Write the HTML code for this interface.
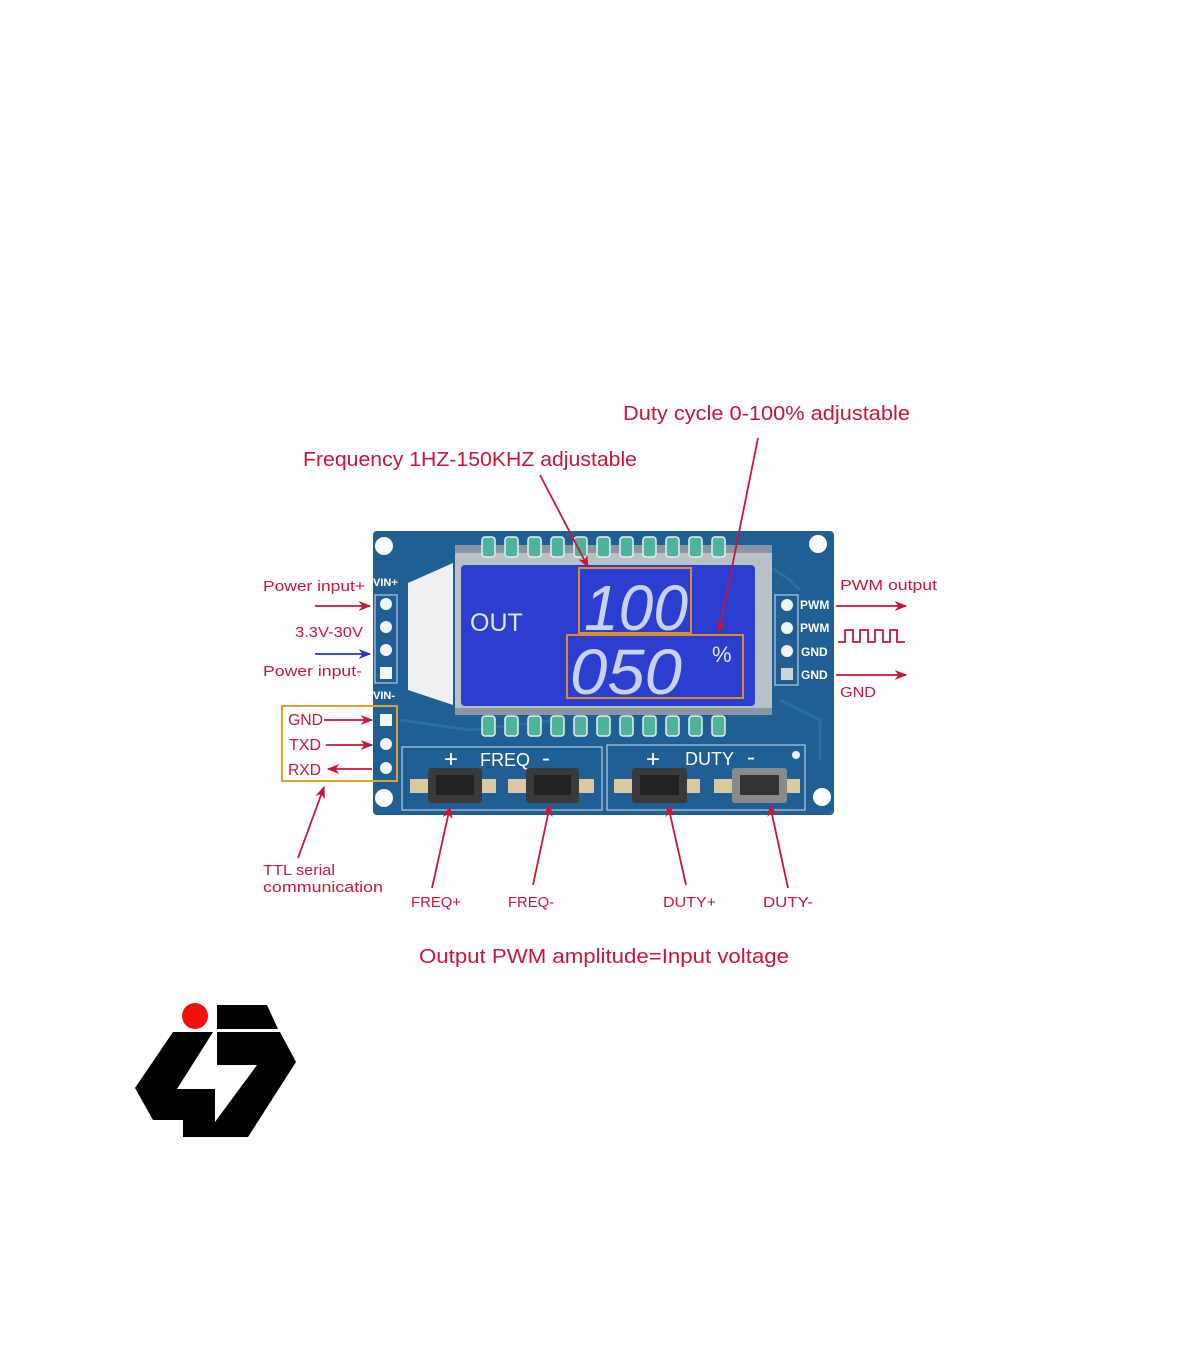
<!DOCTYPE html>
<html><head><meta charset="utf-8"><style>
html,body{margin:0;padding:0;background:#fff;width:1200px;height:1372px;overflow:hidden}
svg{display:block}
text{font-family:"Liberation Sans","DejaVu Sans",sans-serif}
</style></head><body>
<svg width="1200" height="1372" viewBox="0 0 1200 1372" xmlns="http://www.w3.org/2000/svg">
<defs>
<marker id="ar" viewBox="0 0 10 10" refX="9" refY="5" markerWidth="7" markerHeight="7" orient="auto-start-reverse"><path d="M0,1 L10,5 L0,9 L3,5 z" fill="#c8163a"/></marker>
<marker id="ab" viewBox="0 0 10 10" refX="9" refY="5" markerWidth="7" markerHeight="7" orient="auto"><path d="M0,1 L10,5 L0,9 L3,5 z" fill="#2a34c8"/></marker>
</defs>
<rect width="1200" height="1372" fill="#fff"/>

<rect x="373" y="531" width="461" height="284" rx="4" fill="#1f5f93"/>
<path d="M400,720 L470,730 L560,720 M780,700 L820,720 L820,760 M760,560 L790,580 L800,590" stroke="#2b6ea6" stroke-width="3" fill="none"/>
<circle cx="384" cy="546" r="9" fill="#fff"/><circle cx="818" cy="544" r="9" fill="#fff"/>
<circle cx="384" cy="798" r="9" fill="#fff"/><circle cx="822" cy="797" r="9" fill="#fff"/>
<rect x="455" y="545" width="317" height="170" fill="#8a97a0"/>
<rect x="455" y="553" width="317" height="155" fill="#b9c1c6"/>
<g fill="#4fb39a" stroke="#e8f0ee" stroke-width="1.5">
<rect x="482" y="537" width="13" height="20" rx="3"/><rect x="505" y="537" width="13" height="20" rx="3"/><rect x="528" y="537" width="13" height="20" rx="3"/><rect x="551" y="537" width="13" height="20" rx="3"/><rect x="574" y="537" width="13" height="20" rx="3"/><rect x="597" y="537" width="13" height="20" rx="3"/><rect x="620" y="537" width="13" height="20" rx="3"/><rect x="643" y="537" width="13" height="20" rx="3"/><rect x="666" y="537" width="13" height="20" rx="3"/><rect x="689" y="537" width="13" height="20" rx="3"/><rect x="712" y="537" width="13" height="20" rx="3"/>
<rect x="482" y="716" width="13" height="20" rx="3"/><rect x="505" y="716" width="13" height="20" rx="3"/><rect x="528" y="716" width="13" height="20" rx="3"/><rect x="551" y="716" width="13" height="20" rx="3"/><rect x="574" y="716" width="13" height="20" rx="3"/><rect x="597" y="716" width="13" height="20" rx="3"/><rect x="620" y="716" width="13" height="20" rx="3"/><rect x="643" y="716" width="13" height="20" rx="3"/><rect x="666" y="716" width="13" height="20" rx="3"/><rect x="689" y="716" width="13" height="20" rx="3"/><rect x="712" y="716" width="13" height="20" rx="3"/>
</g>
<polygon points="408,583 453,563 453,705 408,690" fill="#eef0f1"/>
<rect x="461" y="565" width="294" height="141" rx="4" fill="#2a3fd0"/>
<text x="470" y="631" font-size="25" fill="#dfe6f5">OUT</text>
<text x="584" y="630" font-size="64" fill="#c7d2ec" font-style="italic" textLength="104" lengthAdjust="spacingAndGlyphs">100</text>
<text x="570" y="694" font-size="64" fill="#c7d2ec" font-style="italic" textLength="112" lengthAdjust="spacingAndGlyphs">050</text>
<text x="712" y="662" font-size="22" fill="#dfe6f5">%</text>
<rect x="579" y="568" width="112" height="65" fill="none" stroke="#e08a2a" stroke-width="2"/>
<rect x="567" y="635" width="176" height="63" fill="none" stroke="#e08a2a" stroke-width="2"/>
<rect x="375" y="595" width="22" height="88" fill="none" stroke="#d6e3ee" stroke-width="1"/>
<g fill="#f2f4f5"><circle cx="386" cy="604" r="6"/><circle cx="386" cy="627" r="6"/><circle cx="386" cy="650" r="6"/><rect x="380" y="667" width="12" height="12"/>
<rect x="380" y="714" width="12" height="12"/><circle cx="386" cy="744" r="6"/><circle cx="386" cy="768" r="6"/></g>
<text x="373" y="586" font-size="11" fill="#fff" font-weight="bold">VIN+</text>
<text x="373" y="699" font-size="11" fill="#fff" font-weight="bold">VIN-</text>
<rect x="775" y="595" width="23" height="90" fill="none" stroke="#d6e3ee" stroke-width="1"/>
<g fill="#f2f4f5"><circle cx="787" cy="605" r="6"/><circle cx="787" cy="628" r="6"/><circle cx="787" cy="651" r="6"/><rect x="781" y="668" width="12" height="12" fill="#cfd6da"/></g>
<g font-size="12" fill="#fff" font-weight="bold"><text x="800" y="609">PWM</text><text x="800" y="632">PWM</text><text x="801" y="656">GND</text><text x="801" y="679">GND</text></g>
<rect x="402" y="747" width="200" height="63" fill="none" stroke="#d6e3ee" stroke-width="1"/>
<rect x="607" y="745" width="198" height="65" fill="none" stroke="#d6e3ee" stroke-width="1"/>
<g font-size="18" fill="#fff"><text x="444" y="767" font-size="24">+</text><text x="480" y="766">FREQ</text><text x="542" y="766" font-size="24">-</text>
<text x="646" y="767" font-size="24">+</text><text x="685" y="765">DUTY</text><text x="747" y="765" font-size="24">-</text></g>
<circle cx="796" cy="755" r="4" fill="#eef"/>
<g>
<rect x="410" y="779" width="86" height="14" fill="#d9c9a0"/><rect x="428" y="768" width="54" height="35" rx="3" fill="#3a3a3a"/><rect x="436" y="775" width="38" height="20" fill="#222"/>
<rect x="508" y="779" width="86" height="14" fill="#d9c9a0"/><rect x="526" y="768" width="53" height="35" rx="3" fill="#3a3a3a"/><rect x="534" y="775" width="37" height="20" fill="#222"/>
<rect x="614" y="779" width="86" height="14" fill="#d9c9a0"/><rect x="632" y="768" width="55" height="35" rx="3" fill="#3a3a3a"/><rect x="640" y="775" width="39" height="20" fill="#222"/>
<rect x="714" y="779" width="86" height="14" fill="#d9c9a0"/><rect x="732" y="768" width="55" height="35" rx="3" fill="#8a8a8a"/><rect x="740" y="775" width="39" height="20" fill="#333"/>
</g>

<g fill="#c8163a">
<text x="623" y="420" font-size="20" textLength="287" lengthAdjust="spacingAndGlyphs">Duty cycle 0-100%  adjustable</text>
<text x="303" y="466" font-size="20" textLength="334" lengthAdjust="spacingAndGlyphs">Frequency 1HZ-150KHZ adjustable</text>
<text x="263" y="591" font-size="15" textLength="102" lengthAdjust="spacingAndGlyphs">Power input+</text>
<text x="295" y="637" font-size="15" textLength="68" lengthAdjust="spacingAndGlyphs">3.3V-30V</text>
<text x="263" y="676" font-size="15" textLength="99" lengthAdjust="spacingAndGlyphs">Power input-</text>
<text x="288" y="725" font-size="16" textLength="35" lengthAdjust="spacingAndGlyphs">GND</text>
<text x="289" y="750" font-size="16" textLength="32" lengthAdjust="spacingAndGlyphs">TXD</text>
<text x="288" y="775" font-size="16" textLength="33" lengthAdjust="spacingAndGlyphs">RXD</text>
<text x="263" y="875" font-size="15" textLength="72" lengthAdjust="spacingAndGlyphs">TTL serial</text>
<text x="263" y="892" font-size="15" textLength="120" lengthAdjust="spacingAndGlyphs">communication</text>
<text x="411" y="907" font-size="15" textLength="50" lengthAdjust="spacingAndGlyphs">FREQ+</text>
<text x="508" y="907" font-size="15" textLength="46" lengthAdjust="spacingAndGlyphs">FREQ-</text>
<text x="663" y="907" font-size="15" textLength="53" lengthAdjust="spacingAndGlyphs">DUTY+</text>
<text x="763" y="907" font-size="15" textLength="50" lengthAdjust="spacingAndGlyphs">DUTY-</text>
<text x="419" y="963" font-size="20" textLength="370" lengthAdjust="spacingAndGlyphs">Output PWM amplitude=Input voltage</text>
<text x="840" y="590" font-size="15" textLength="97" lengthAdjust="spacingAndGlyphs">PWM output</text>
<text x="840" y="697" font-size="15" textLength="36" lengthAdjust="spacingAndGlyphs">GND</text>
</g>
<rect x="282" y="706" width="115" height="75" fill="none" stroke="#e0a030" stroke-width="2"/>
<g stroke="#c8163a" stroke-width="1.8" fill="none" marker-end="url(#ar)">
<line x1="540" y1="475" x2="588" y2="567"/>
<line x1="758" y1="438" x2="719" y2="632"/>
<line x1="315" y1="606" x2="370" y2="606"/>
<line x1="324" y1="720" x2="372" y2="720"/>
<line x1="326" y1="745" x2="372" y2="745"/>
<line x1="372" y1="769" x2="328" y2="769"/>
<line x1="298" y1="858" x2="324" y2="787"/>
<line x1="432" y1="888" x2="450" y2="807"/>
<line x1="533" y1="885" x2="550" y2="805"/>
<line x1="686" y1="885" x2="668" y2="805"/>
<line x1="788" y1="888" x2="770" y2="805"/>
<line x1="836" y1="606" x2="906" y2="606"/>
<line x1="836" y1="675" x2="906" y2="675"/>
</g>
<line x1="315" y1="654" x2="370" y2="654" stroke="#2a34c8" stroke-width="1.8" marker-end="url(#ab)"/>
<path d="M838,642 H845 V630 H853 V642 H860 V630 H868 V642 H875 V630 H883 V642 H890 V630 H897 V642 H905" stroke="#c8163a" stroke-width="1.8" fill="none"/>

<circle cx="195" cy="1016" r="13" fill="#f01010"/>
<polygon points="217,1005 267,1005 278,1029 217,1029" fill="#000"/>
<polygon points="173,1032 280,1032 296,1062 248,1137 183,1137 183,1120 153,1120 135,1088" fill="#000"/>
<polygon points="213,1032 177,1089 215,1089 215,1122 257,1065 217,1065 217,1032" fill="#fff"/>
</svg>
</body></html>
